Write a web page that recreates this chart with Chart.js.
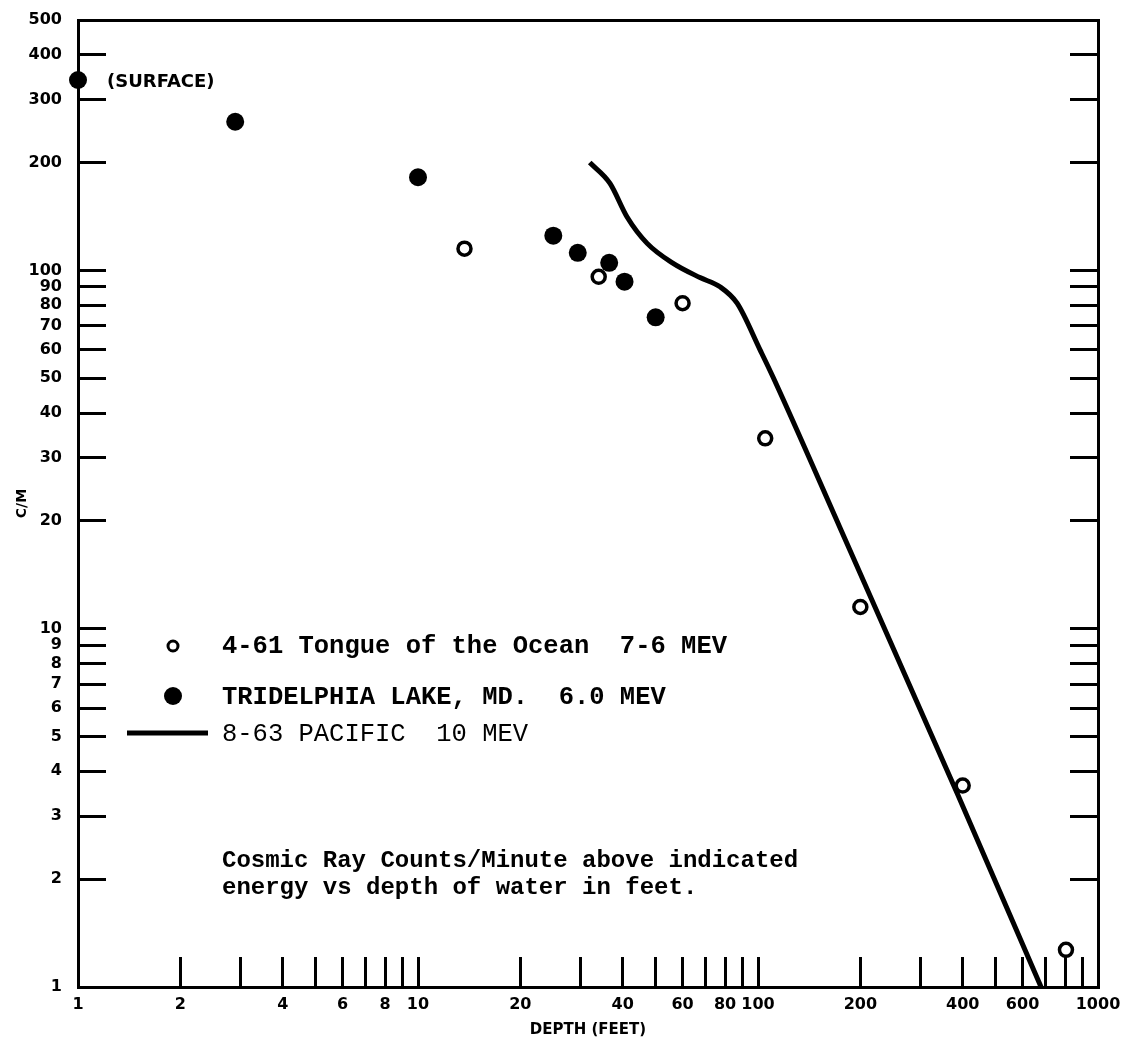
<!DOCTYPE html>
<html>
<head>
<meta charset="utf-8">
<script src="https://cdn.jsdelivr.net/npm/chart.js@4/dist/chart.umd.min.js"></script>
<style>
  body { margin: 0; background: #fff; }
  #wrap { width: 1128px; height: 1048px; }
</style>
</head>
<body>
<div id="wrap"><canvas id="chart"></canvas></div>
<script>
// Cosmic ray counts/minute vs depth of water (feet)
const oceanDepth = [13.7, 34, 60, 105, 200, 400, 805];
const oceanCounts = [115, 96, 81, 34, 11.5, 3.65, 1.27];

const lakeDepth = [1, 2.9, 10, 25, 29.5, 36.5, 40.5, 50];
const lakeCounts = [340, 260, 182, 125, 112, 105, 93, 74];

const pacificDepth = [32, 36.7, 41.2, 47.2, 56, 67.5, 77.3, 86.8, 101.4, 110.7, 174, 385, 680];
const pacificCounts = [200, 175, 141, 119, 105, 95.5, 90, 81, 60, 50.4, 19.2, 3.48, 1];

const xTickValues = [1, 2, 3, 4, 5, 6, 7, 8, 9, 10, 20, 30, 40, 50, 60, 70, 80, 90, 100, 200, 300, 400, 500, 600, 700, 800, 900, 1000];
const xTickLabels = ['1', '2', '', '4', '', '6', '', '8', '', '10', '20', '', '40', '', '60', '', '80', '', '100', '200', '', '400', '', '600', '', '', '', '1000'];
const yTickValues = [1, 2, 3, 4, 5, 6, 7, 8, 9, 10, 20, 30, 40, 50, 60, 70, 80, 90, 100, 200, 300, 400, 500];
const yTickLabels = ['1', '2', '3', '4', '5', '6', '7', '8', '9', '10', '20', '30', '40', '50', '60', '70', '80', '90', '100', '200', '300', '400', '500'];
const rightTickValues = [2, 3, 4, 5, 6, 7, 8, 9, 10, 20, 30, 40, 50, 60, 70, 80, 90, 100, 200, 300, 400];

const legendLabels = ['4-61 Tongue of the Ocean  7-6 MEV', 'TRIDELPHIA LAKE, MD.  6.0 MEV', '8-63 PACIFIC  10 MEV'];
const noteLines = ['Cosmic Ray Counts/Minute above indicated', 'energy vs depth of water in feet.'];

const toPoints = (xs, ys) => xs.map((x, i) => ({ x: x, y: ys[i] }));

const labelFont = { family: 'DejaVu Sans', weight: 'bold', size: 16 };

// fixed box size, and drop the label padding chart.js adds around the plot
function fixSize(prop, size) {
  return s => {
    s[prop] = size;
    s.paddingTop = s.paddingBottom = s.paddingLeft = s.paddingRight = 0;
  };
}

// legend and notes sit inside the plot, so draw them by hand
const notesPlugin = {
  id: 'notes',
  afterDraw(chart) {
    const ctx = chart.ctx;
    ctx.save();
    ctx.fillStyle = '#000';
    ctx.strokeStyle = '#000';

    // open circle
    ctx.lineWidth = 3;
    ctx.beginPath();
    ctx.arc(173, 646, 5, 0, Math.PI * 2);
    ctx.stroke();
    // filled circle
    ctx.beginPath();
    ctx.arc(173, 696, 9, 0, Math.PI * 2);
    ctx.fill();
    // line
    ctx.lineWidth = 5;
    ctx.beginPath();
    ctx.moveTo(127, 733);
    ctx.lineTo(208, 733);
    ctx.stroke();

    ctx.textBaseline = 'middle';
    ctx.textAlign = 'left';
    ctx.font = 'bold 25.5px "Liberation Mono"';
    ctx.fillText(legendLabels[0], 222, 647);
    ctx.fillText(legendLabels[1], 222, 698);
    ctx.font = '25.5px "Liberation Mono"';
    ctx.fillText(legendLabels[2], 222, 734);

    ctx.font = 'bold 24px "Liberation Mono"';
    ctx.fillText(noteLines[0], 222, 861);
    ctx.fillText(noteLines[1], 222, 888);

    ctx.font = 'bold 18px "DejaVu Sans"';
    ctx.fillText('(SURFACE)', 107, 82);
    ctx.restore();
  }
};

const axisGrid = {
  drawOnChartArea: false,
  drawTicks: true,
  color: '#000',
  lineWidth: 3
};

new Chart(document.getElementById('chart'), {
  type: 'scatter',
  data: {
    datasets: [
      {
        label: legendLabels[2],
        data: toPoints(pacificDepth, pacificCounts),
        showLine: true,
        borderColor: '#000',
        borderWidth: 5,
        pointRadius: 0,
        cubicInterpolationMode: 'monotone',
        clip: false
      },
      {
        label: legendLabels[1],
        data: toPoints(lakeDepth, lakeCounts),
        backgroundColor: '#000',
        borderWidth: 0,
        pointRadius: 9,
        clip: false
      },
      {
        label: legendLabels[0],
        data: toPoints(oceanDepth, oceanCounts),
        backgroundColor: '#fff',
        borderColor: '#000',
        borderWidth: 3.5,
        pointRadius: 6.5,
        clip: false
      }
    ]
  },
  options: {
    responsive: true,
    maintainAspectRatio: false,
    animation: false,
    events: [],
    layout: { padding: 0 },
    plugins: {
      legend: { display: false },
      tooltip: { enabled: false }
    },
    scales: {
      x: {
        type: 'logarithmic',
        position: 'bottom',
        min: 1,
        max: 1000,
        afterBuildTicks: s => { s.ticks = xTickValues.map(v => ({ value: v })); },
        afterFit: fixSize('height', 61),
        grid: { ...axisGrid, tickLength: -30 },
        border: { display: true, color: '#000', width: 3 },
        ticks: {
          autoSkip: false,
          maxRotation: 0,
          padding: 38,
          color: '#000',
          font: labelFont,
          callback: (v, i) => xTickLabels[i]
        },
        title: {
          display: true,
          text: 'DEPTH (FEET)',
          color: '#000',
          font: { family: 'DejaVu Sans', weight: 'bold', size: 15 },
          padding: { top: 0, bottom: 9 }
        }
      },
      xTop: {
        type: 'logarithmic',
        position: 'top',
        min: 1,
        max: 1000,
        afterFit: fixSize('height', 20),
        grid: { drawOnChartArea: false, drawTicks: false },
        border: { display: true, color: '#000', width: 3 },
        ticks: { display: false }
      },
      y: {
        type: 'logarithmic',
        position: 'left',
        min: 1,
        max: 500,
        afterBuildTicks: s => { s.ticks = yTickValues.map(v => ({ value: v })); },
        afterFit: fixSize('width', 78),
        grid: { ...axisGrid, tickLength: -28 },
        border: { display: true, color: '#000', width: 3 },
        ticks: {
          autoSkip: false,
          padding: 44,
          color: '#000',
          font: labelFont,
          callback: (v, i) => yTickLabels[i]
        },
        title: {
          display: true,
          text: 'C/M',
          color: '#000',
          font: { family: 'DejaVu Sans', weight: 'bold', size: 14 },
          padding: { top: 14, bottom: 0 }
        }
      },
      yRight: {
        type: 'logarithmic',
        position: 'right',
        min: 1,
        max: 500,
        afterBuildTicks: s => { s.ticks = rightTickValues.map(v => ({ value: v })); },
        afterFit: fixSize('width', 30),
        grid: { ...axisGrid, tickLength: -28 },
        border: { display: true, color: '#000', width: 3 },
        ticks: { display: false }
      }
    }
  },
  plugins: [notesPlugin]
});
</script>
</body>
</html>
